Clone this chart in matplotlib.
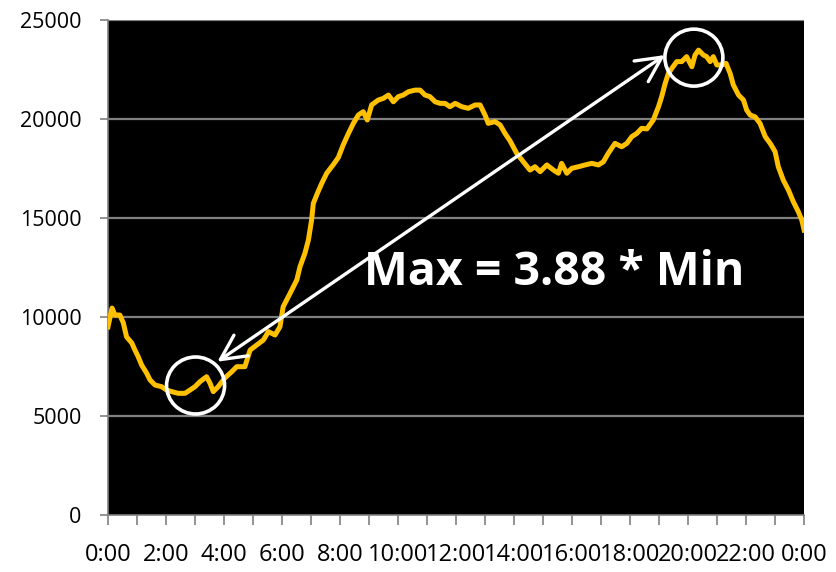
import numpy as np
import matplotlib
matplotlib.use('Agg')
import matplotlib.pyplot as plt
from matplotlib.patches import Ellipse

# hours of the day and load values
hours = [0.00, 0.14, 0.24, 0.41, 0.53, 0.64, 0.82, 0.93, 1.04, 1.16, 1.33, 1.45, 1.62, 1.85,
         2.02, 2.20, 2.42, 2.66, 2.83, 3.00, 3.17, 3.40, 3.52, 3.63, 3.80, 4.03, 4.27, 4.44,
         4.72, 4.90, 5.13, 5.36, 5.53, 5.76, 5.93, 6.04, 6.28, 6.51, 6.62, 6.79, 6.91, 7.02,
         7.08, 7.22, 7.37, 7.54, 7.77, 7.94, 8.11, 8.29, 8.46, 8.63, 8.80, 8.94, 9.09, 9.32,
         9.49, 9.67, 9.84, 10.01, 10.18, 10.36, 10.59, 10.76, 10.93, 11.10, 11.28, 11.45,
         11.62, 11.79, 11.97, 12.20, 12.42, 12.66, 12.83, 13.00, 13.11, 13.34, 13.52, 13.69,
         13.86, 14.09, 14.32, 14.55, 14.72, 14.90, 15.13, 15.36, 15.53, 15.64, 15.82, 15.99,
         16.22, 16.45, 16.68, 16.91, 17.08, 17.25, 17.48, 17.71, 17.89, 18.06, 18.23, 18.40,
         18.58, 18.80, 18.98, 19.09, 19.21, 19.32, 19.44, 19.61, 19.78, 19.95, 20.13, 20.24,
         20.36, 20.53, 20.64, 20.76, 20.87, 20.99, 21.16, 21.31, 21.45, 21.56, 21.74, 21.91,
         22.02, 22.14, 22.31, 22.48, 22.66, 22.83, 23.00, 23.11, 23.28, 23.46, 23.63, 23.80,
         23.92, 24.00]
load = [9500, 10450, 10100, 10100, 9700, 9000, 8690, 8330, 8000, 7575, 7170, 6820, 6565, 6480,
        6310, 6230, 6145, 6145, 6310, 6480, 6730, 6985, 6650, 6230, 6480, 6920, 7240, 7490,
        7490, 8330, 8585, 8840, 9260, 9090, 9510, 10520, 11200, 11870, 12540, 13220, 13890, 14900,
        15740, 16250, 16750, 17260, 17700, 18050, 18690, 19270, 19780, 20200, 20370, 19950, 20710, 20960,
        21040, 21210, 20870, 21130, 21210, 21380, 21460, 21460, 21210, 21130, 20870, 20790,
        20790, 20620, 20790, 20620, 20540, 20710, 20710, 20200, 19780, 19870, 19700, 19270,
        18900, 18270, 17840, 17420, 17590, 17340, 17680, 17420, 17260, 17760, 17260, 17510,
        17590, 17680, 17760, 17680, 17840, 18270, 18770, 18600, 18770, 19110, 19270, 19530,
        19500, 19950, 20620, 21130, 21800, 22300, 22560, 22900, 22900, 23150, 22640, 23230,
        23480, 23230, 23150, 22900, 23150, 22730, 22730, 22810, 22300, 21720, 21210, 20960,
        20450, 20200, 20110, 19780, 19110, 18770, 18350, 17590, 16920, 16410, 15820, 15320,
        14900, 14390]

xtick_labels = ['0:00', '', '2:00', '', '4:00', '', '6:00', '', '8:00', '', '10:00', '',
                '12:00', '', '14:00', '', '16:00', '', '18:00', '', '20:00', '', '22:00', '', '0:00']
yticks = [0, 5000, 10000, 15000, 20000, 25000]

# annotation spots (hour, value)
min_spot = (3.02, 6540)
max_spot = (20.2, 23100)
arrow_lo = (3.77, 7740)
arrow_hi = (19.2, 23230)
label = 'Max = 3.88 * Min'
label_at = (15.4, 12270)

plt.rcParams['font.family'] = ['Open Sans', 'DejaVu Sans']

fig = plt.figure(figsize=(8.37, 5.72), dpi=100)
ax = fig.add_axes([0.129, 0.0997, 0.8317, 0.8653])
ax.set_facecolor('black')

for y in yticks[1:]:
    ax.axhline(y, color='#808080', lw=1.6, zorder=1)

ax.plot(hours, load, color='#FFC000', lw=3.6, zorder=3, solid_joinstyle='round')

ax.set_xlim(0, 24)
ax.set_ylim(0, 25000)
ax.set_xticks(range(25))
ax.set_xticklabels(xtick_labels)
ax.set_yticks(yticks)

for s in ['top', 'right']:
    ax.spines[s].set_visible(False)
for s in ['left', 'bottom']:
    ax.spines[s].set_color('#808080')
    ax.spines[s].set_linewidth(1.2)
ax.tick_params(axis='x', direction='out', length=7, width=1.2, color='#808080',
               labelsize=17, pad=13)
ax.tick_params(axis='y', direction='out', length=6, width=1.2, color='#808080',
               labelsize=15.5, pad=13)

# circles at min and max (pixel radius converted to data units)
rx = 1.0
ry = 28.5 * 50.5
for c in [min_spot, max_spot]:
    ax.add_patch(Ellipse(c, 2 * rx, 2 * ry, fill=False, ec='white', lw=2.6, zorder=4))

ax.annotate('', xy=arrow_hi, xytext=arrow_lo,
            arrowprops=dict(arrowstyle='<->,head_length=0.9,head_width=0.45',
                            color='white', lw=2.4, shrinkA=0, shrinkB=0, mutation_scale=20),
            zorder=5)

ax.text(label_at[0], label_at[1], label, color='white', fontsize=33.5, fontweight='bold',
        ha='center', va='center', zorder=6)

fig.savefig('out.png', dpi=100)
